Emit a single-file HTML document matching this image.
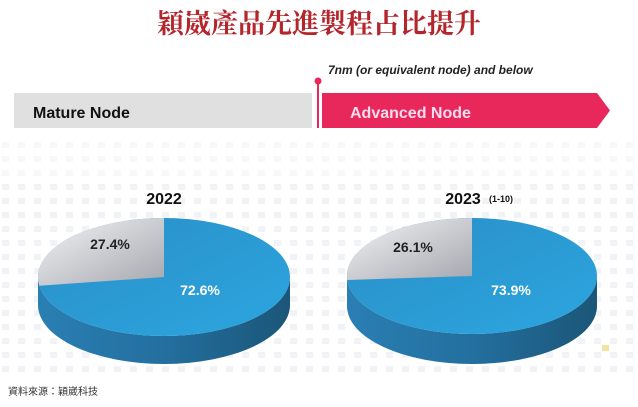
<!DOCTYPE html>
<html><head><meta charset="utf-8"><style>
html,body{margin:0;padding:0;background:#fff;}
body{width:638px;height:402px;overflow:hidden;position:relative;font-family:"Liberation Sans","Noto Sans CJK TC",sans-serif;}
</style></head><body>
<svg width="638" height="402" viewBox="0 0 638 402" xmlns="http://www.w3.org/2000/svg">
<defs>
<linearGradient id="side" x1="0" y1="0" x2="1" y2="0">
<stop offset="0" stop-color="#2a7fb3"/><stop offset="0.5" stop-color="#236f9f"/><stop offset="1" stop-color="#1b5678"/>
</linearGradient>
<linearGradient id="top" x1="0" y1="0" x2="1" y2="1">
<stop offset="0" stop-color="#2a8ec6"/><stop offset="1" stop-color="#2ca6e0"/>
</linearGradient>
<linearGradient id="gray" x1="0" y1="0" x2="1" y2="1">
<stop offset="0" stop-color="#f4f4f6"/><stop offset="1" stop-color="#a4a7ae"/>
</linearGradient>
<pattern id="dots" width="16" height="14" patternUnits="userSpaceOnUse">
<rect x="2" y="2" width="7" height="6" fill="#e6e9f0"/>
</pattern>
</defs>
<rect x="0" y="138" width="638" height="240" fill="url(#dots)" opacity="0.55"/>
<rect x="0" y="138" width="638" height="40" fill="#fff" opacity="0.4"/>
<text x="319" y="33" text-anchor="middle" font-family="'Noto Serif CJK SC','Noto Serif CJK TC',serif" font-weight="bold" font-size="27" fill="#b3262c">穎崴產品先進製程占比提升</text>
<text x="328" y="74" font-style="italic" font-weight="bold" font-size="12" fill="#222">7nm (or equivalent node) and below</text>
<rect x="14" y="93" width="298" height="35" fill="#e0e0e1"/>
<text x="33" y="118" font-weight="bold" font-size="16" fill="#111">Mature Node</text>
<line x1="318" y1="80" x2="318" y2="128" stroke="#e8285a" stroke-width="2"/>
<circle cx="318" cy="81" r="3.5" fill="#e8285a"/>
<polygon points="322,93 597,93 610,110.5 597,128 322,128" fill="#e8285a"/>
<text x="350" y="118" font-weight="bold" font-size="16" fill="#fde">Advanced Node</text>

<!-- pie 1 -->
<g>
<path d="M38,277 A126,59 0 0 0 290,277 L290,305 A126,59 0 0 1 38,305 Z" fill="url(#side)"/>
<ellipse cx="164" cy="277" rx="126" ry="59" fill="url(#top)"/>
<path d="M164,277 L164,218 A126,59 0 0 0 39.4,285.8 Z" fill="url(#gray)"/>
<text x="164" y="204" text-anchor="middle" font-weight="bold" font-size="16" fill="#111">2022</text>
<text x="110" y="249" text-anchor="middle" font-weight="bold" font-size="14" fill="#222">27.4%</text>
<text x="200" y="295" text-anchor="middle" font-weight="bold" font-size="14" fill="#fff">72.6%</text>
</g>
<!-- pie 2 -->
<g>
<path d="M347,276 A125,58 0 0 0 597,276 L597,306 A125,58 0 0 1 347,306 Z" fill="url(#side)"/>
<ellipse cx="472" cy="276" rx="125" ry="58" fill="url(#top)"/>
<path d="M472,276 L472,218 A125,58 0 0 0 347.3,280 Z" fill="url(#gray)"/>
<text x="463" y="204" text-anchor="middle" font-weight="bold" font-size="16" fill="#111">2023</text>
<text x="489" y="202" font-weight="bold" font-size="9" fill="#111">(1-10)</text>
<text x="413" y="252" text-anchor="middle" font-weight="bold" font-size="14" fill="#222">26.1%</text>
<text x="511" y="295" text-anchor="middle" font-weight="bold" font-size="14" fill="#fff">73.9%</text>
</g>
<rect x="602" y="345" width="7" height="6" fill="#f3e3a0"/>
<rect x="603" y="337" width="0" height="0"/>
<text x="8" y="395" font-size="10" fill="#333">資料來源：穎崴科技</text>
</svg>
</body></html>
